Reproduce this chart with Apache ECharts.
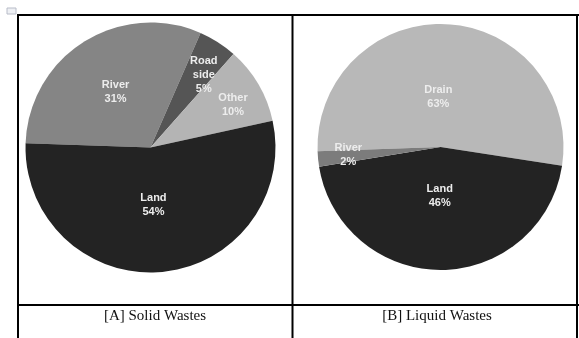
<!DOCTYPE html>
<html>
<head>
<meta charset="utf-8">
<script src="https://cdn.jsdelivr.net/npm/echarts@6/dist/echarts.min.js"></script>
<style>
html,body{margin:0;padding:0;background:#fff;}
#c{width:579px;height:338px;}
</style>
</head>
<body>
<div id="c"></div>
<script>
// Panel A: Solid wastes
const solidCategories = ['River', 'Road\nside', 'Other', 'Land'];
const solidValues = [31, 5, 10, 54];
const solidLabels = ['31%', '5%', '10%', '54%'];
// Panel B: Liquid wastes (slice shares as drawn; label text as printed)
const liquidCategories = ['Drain', 'Land', 'River'];
const liquidValues = [53, 45, 2];
const liquidLabels = ['63%', '46%', '2%'];
const captions = ['[A] Solid Wastes', '[B] Liquid Wastes'];

const solidColors = ['#858585', '#555555', '#b4b4b4', '#232323'];
const liquidColors = ['#b8b8b8', '#232323', '#7c7c7c'];
const solidOffsets = [[0, 0], [18, -17], [26, -9], [-3, -8]];
const liquidOffsets = [[-6, 14], [-1, -16], [-28, 2]];

function buildData(cats, vals, labs, colors, offsets) {
  return cats.map((c, i) => ({
    name: c,
    value: vals[i],
    itemStyle: { color: colors[i] },
    label: { formatter: c + '\n' + labs[i], offset: offsets[i] }
  }));
}

const labelStyle = {
  show: true,
  position: 'inner',
  color: '#ededed',
  fontFamily: 'Liberation Sans, Arial, sans-serif',
  fontSize: 11,
  fontWeight: 'bold',
  lineHeight: 14,
  align: 'center'
};

const chart = echarts.init(document.getElementById('c'), null, { renderer: 'canvas' });
const lineStyle = { stroke: '#000', lineWidth: 2 };
const captionFont = '15px "Liberation Serif", "Times New Roman", serif';
chart.setOption({
  animation: false,
  backgroundColor: '#fff',
  series: [
    {
      type: 'pie',
      center: [150.5, 147.5],
      radius: [0, 125],
      startAngle: 178,
      clockwise: true,
      silent: true,
      label: labelStyle,
      labelLine: { show: false },
      itemStyle: { borderWidth: 0 },
      data: buildData(solidCategories, solidValues, solidLabels, solidColors, solidOffsets)
    },
    {
      type: 'pie',
      center: [440.5, 147],
      radius: [0, 123],
      startAngle: 182,
      clockwise: true,
      silent: true,
      label: labelStyle,
      labelLine: { show: false },
      itemStyle: { borderWidth: 0 },
      data: buildData(liquidCategories, liquidValues, liquidLabels, liquidColors, liquidOffsets)
    }
  ],
  graphic: [
    { type: 'rect', shape: { x: 7, y: 8, width: 9, height: 6 }, style: { fill: '#eef0f4', stroke: '#b8bcc8', lineWidth: 1 } },
    { type: 'line', shape: { x1: 17, y1: 15, x2: 579, y2: 15 }, style: lineStyle },
    { type: 'line', shape: { x1: 18, y1: 14, x2: 18, y2: 338 }, style: lineStyle },
    { type: 'line', shape: { x1: 292.5, y1: 14, x2: 292.5, y2: 338 }, style: lineStyle },
    { type: 'line', shape: { x1: 577, y1: 14, x2: 577, y2: 338 }, style: lineStyle },
    { type: 'line', shape: { x1: 17, y1: 305, x2: 579, y2: 305 }, style: lineStyle },
    { type: 'text', x: 155, y: 316, style: { text: captions[0], fill: '#111', font: captionFont, textAlign: 'center', textVerticalAlign: 'middle' } },
    { type: 'text', x: 437, y: 316, style: { text: captions[1], fill: '#111', font: captionFont, textAlign: 'center', textVerticalAlign: 'middle' } }
  ]
});
</script>
</body>
</html>
